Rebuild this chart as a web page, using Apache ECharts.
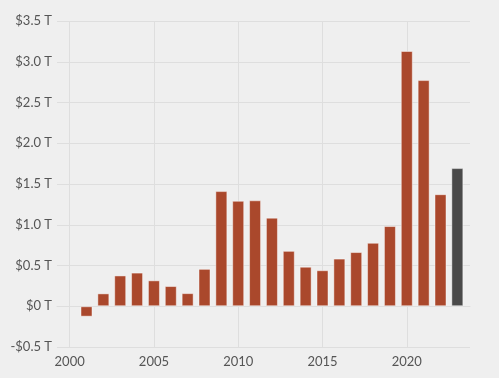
<!DOCTYPE html>
<html>
<head>
<meta charset="utf-8">
<script src="https://cdn.jsdelivr.net/npm/echarts@6/dist/echarts.min.js"></script>
<style>
    html, body { margin: 0; padding: 0; background: #efefef; }
    #chart { width: 499px; height: 378px; }
</style>
</head>
<body>
<div id="chart"></div>
<script>
// fiscal years and deficit in trillions of dollars
const years = [2001, 2002, 2003, 2004, 2005, 2006, 2007, 2008, 2009, 2010, 2011, 2012,
    2013, 2014, 2015, 2016, 2017, 2018, 2019, 2020, 2021, 2022, 2023];
const deficits = [-0.128, 0.158, 0.378, 0.413, 0.318, 0.248, 0.161, 0.459, 1.413, 1.294, 1.300, 1.087,
    0.680, 0.485, 0.442, 0.585, 0.665, 0.779, 0.984, 3.132, 2.775, 1.375, 1.695];
const yearTicks = [2000, 2005, 2010, 2015, 2020];
const latestYear = 2023;

const textColor = '#555';
const gridColor = '#dedede';

function getOption() {
    return {
        backgroundColor: '#efefef',
        textStyle: { fontFamily: 'Lato' },
        grid: {
            left: 57,
            right: 29,
            top: 21,
            bottom: 31
        },
        xAxis: {
            type: 'value',
            min: 1999.25,
            max: 2023.75,
            axisLine: { show: true, lineStyle: { color: gridColor } },
            axisTick: { show: false, customValues: yearTicks },
            axisLabel: {
                customValues: yearTicks,
                color: textColor,
                fontSize: 13,
                margin: 8,
                formatter: v => String(v)
            },
            splitLine: { show: true, lineStyle: { color: gridColor } }
        },
        yAxis: {
            type: 'value',
            min: -0.5,
            max: 3.5,
            interval: 0.5,
            axisLine: { show: false },
            axisTick: { show: false },
            axisLabel: {
                color: textColor,
                fontSize: 13,
                margin: 5,
                formatter: function (v) {
                    if (Math.abs(v) < 1e-9) return '$0 T';
                    return (v < 0 ? '-$' : '$') + Math.abs(v).toFixed(1) + ' T';
                }
            },
            splitLine: { lineStyle: { color: gridColor } }
        },
        series: [
            {
                type: 'bar',
                barWidth: 12,
                data: years.map((y, i) => ({
                    value: [y, deficits[i]],
                    itemStyle: {
                        color: y === latestYear ? '#4a4a4a' : '#aa482c'
                    }
                })),
                itemStyle: {
                    borderColor: 'rgba(255,255,255,0.45)',
                    borderWidth: 1
                },
                animation: false
            }
        ]
    };
}

let chart = echarts.init(document.getElementById('chart'), null, { renderer: 'canvas' });
chart.setOption(getOption());
</script>
</body>
</html>
